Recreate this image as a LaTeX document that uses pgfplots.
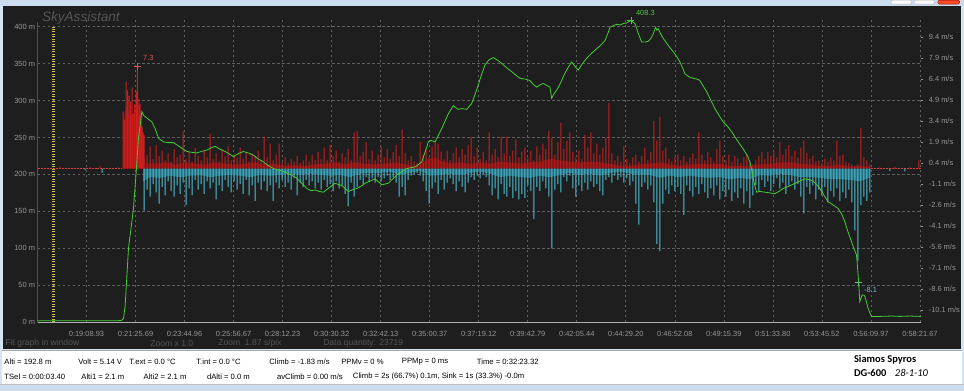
\documentclass[border=0pt]{standalone}
\usepackage{pgfplots}
\pgfplotsset{compat=1.18}
\usepackage{fontspec}
\setmainfont{Liberation Sans}
\newfontfamily\calibri{Carlito}
\definecolor{chrome}{RGB}{214,227,241}
\definecolor{topblue}{RGB}{202,220,238}
\definecolor{bgdark}{RGB}{30,30,30}
\definecolor{gridc}{RGB}{95,95,95}
\definecolor{tickc}{RGB}{150,150,150}
\definecolor{axisc}{RGB}{175,175,175}
\definecolor{dimc}{RGB}{85,85,85}
\definecolor{altc}{RGB}{70,205,55}
\definecolor{upc}{RGB}{205,30,30}
\definecolor{upband}{RGB}{120,22,22}
\definecolor{downc}{RGB}{75,195,215}
\definecolor{downband}{RGB}{40,105,122}
\definecolor{uplab}{RGB}{215,85,85}
\definecolor{downlab}{RGB}{120,180,205}
\definecolor{yellowc}{RGB}{205,200,75}
\pgfplotsset{
  base/.style={
    scale only axis, width=883.7bp, height=302.1bp,
    at={(37.3bp,68.7bp)}, anchor=south west,
    xmin=37.3, xmax=921,
  },
  lab/.style={font=\fontsize{7.5}{8}\selectfont, text=tickc},
}
\begin{document}
\begin{tikzpicture}[x=1bp,y=1bp]
% window chrome
\fill[chrome] (0,0) rectangle (964,391);
\fill[topblue] (0,385.3) rectangle (964,391);
\fill[bgdark] (2.5,42.5) rectangle (961.5,385.3);
\fill[white] (2,7) rectangle (962,41);
\draw[gray!70, line width=0.6] (2,41) -- (962,41);
\fill[topblue] (0,0) rectangle (964,7);
\draw[gray!50, line width=0.5] (0,7) -- (964,7);
\draw[gray!60, fill=white!90!blue!10, rounded corners=1.5] (891,387) rectangle (912,391);
\draw[gray!60, fill=white!90!blue!10, rounded corners=1.5] (914,387) rectangle (935,391);
\draw[red!50!black, fill=red!65!orange!85!white, rounded corners=1.5] (938,387) rectangle (960,391);
% watermark
\node[anchor=base west, inner sep=0, text=dimc, font=\fontsize{13.6}{14}\selectfont\itshape] at (41.7,369.5) {SkyAssistant};
% bottom info in dark panel
\begin{scope}[every node/.style={anchor=west, inner sep=0, text=dimc, font=\fontsize{8.6}{9}\selectfont}]
\node at (5,47.7) {Fit graph in window};
\node at (150,47.7) {Zoom x 1.0};
\node at (218,47.7) {Zoom\ \ 1.87 s/pix};
\node at (323,47.7) {Data quantity: 23719};
\end{scope}
% status panel
\begin{scope}[every node/.style={anchor=west, inner sep=0, text=black, font=\fontsize{7.7}{9}\selectfont}]
\node at (4,29.5) {Alti = 192.8 m};
\node at (78,29.5) {Volt = 5.14 V};
\node at (129,29.5) {T.ext = 0.0 °C};
\node at (196,29.5) {T.int = 0.0 °C};
\node at (269,29.5) {Climb = -1.83 m/s};
\node at (341,29.5) {PPMv = 0 \%};
\node at (401.7,29.5) {PPMp = 0 ms};
\node at (476.7,29.5) {Time = 0:32:23.32};
\node at (4,14.3) {TSel = 0:00:03.40};
\node at (81,14.3) {Alti1 = 2.1 m};
\node at (143.3,14.3) {Alti2 = 2.1 m};
\node at (206.7,14.3) {dAlti = 0.0 m};
\node at (276.7,14.3) {avClimb = 0.00 m/s};
\node at (352.7,14.3) {Climb = 2s (66.7\%) 0.1m, Sink = 1s (33.3\%) -0.0m};
\end{scope}
\node[anchor=west, inner sep=0, font=\fontsize{10.5}{12}\calibri\bfseries] at (854,31) {Siamos Spyros};
\node[anchor=west, inner sep=0, font=\fontsize{10.5}{12}\calibri\bfseries] at (854,18.3) {DG-600};
\node[anchor=west, inner sep=0, font=\fontsize{10.5}{12}\calibri\itshape] at (895,18.3) {28-1-10};

% ---- altitude axis: grid, ticks, cursor
\begin{axis}[base,
  ymin=0, ymax=408.3,
  axis line style={draw=none},
  xtick={86.3,135.35,184.4,233.45,282.5,331.55,380.6,429.65,478.7,527.75,576.8,625.85,674.9,723.95,773,822.05,871.1,920.15},
  xticklabels={0:19:08.93,0:21:25.69,0:23:44.96,0:25:56.67,0:28:12.23,0:30:30.32,0:32:42.13,0:35:00.37,0:37:19.12,0:39:42.79,0:42:05.44,0:44:29.20,0:46:52.08,0:49:15.39,0:51:33.80,0:53:45.52,0:56:09.97,0:58:21.67},
  ytick={0,50,100,150,200,250,300,350,400},
  yticklabels={0 m,50 m,100 m,150 m,200 m,250 m,300 m,350 m,400 m},
  xmajorgrids, ymajorgrids,
  grid style={gridc, line width=0.6bp, dash pattern=on 2.5bp off 2.5bp},
  major tick length=0pt,
  tick label style={lab},
  x tick label style={yshift=-5bp},
  y tick label style={xshift=1bp},
]
\addplot[yellowc, line width=2.8bp, dash pattern=on 1bp off 1.5bp] coordinates {(53.3,0) (53.3,400)};
\draw[axisc, line width=0.7bp] (rel axis cs:0,0.995) -- (rel axis cs:0,0) -- (rel axis cs:1,0);
\end{axis}

% ---- climb axis (m/s)
\begin{axis}[base,
  ymin=-10.98, ymax=10.6,
  hide x axis,
  axis y line*=right,
  y axis line style={draw=none},
  ytick={-10.1,-8.6,-7.1,-5.6,-4.1,-2.6,-1.1,0.4,1.9,3.4,4.9,6.4,7.9,9.4},
  yticklabels={-10.1 m/s,-8.6 m/s,-7.1 m/s,-5.6 m/s,-4.1 m/s,-2.6 m/s,-1.1 m/s,0.4 m/s,1.9 m/s,3.4 m/s,4.9 m/s,6.4 m/s,7.9 m/s,9.4 m/s},
  tick align=outside, major tick length=2.5bp,
  tick style={tickc, line width=0.5bp},
  yticklabel style={lab, xshift=2bp},
  clip=false,
]
\addplot[upc!85!white, line width=0.6bp, dash pattern=on 2bp off 1bp] coordinates {(37.3,0.03) (122,0.03)};
\addplot[upc!85!white, line width=0.6bp, dash pattern=on 2bp off 1bp] coordinates {(871,0.03) (921,0.03)};
% dense bands near zero
\addplot[fill=upband, draw=none] coordinates {
(123,0)(123,3.5)(126,4.5)(130,3.8)(134,4.0)(138,4.2)(141,3.0)(143,1.0)(146,0.4)(155,0.35)(165,0.45)(175,0.3)(185,0.45)(195,0.35)(205,0.3)(215,0.45)(225,0.35)(235,0.3)(245,0.35)(255,0.45)(265,0.3)(275,0.35)(285,0.2)(295,0.25)(305,0.2)(315,0.3)(325,0.35)(335,0.45)(345,0.3)(355,0.45)(365,0.35)(375,0.3)(385,0.35)(395,0.45)(405,0.3)(415,0.2)(422,0.45)(428,0.7)(435,0.8)(440,0.6)(450,0.35)(460,0.45)(470,0.35)(480,0.45)(490,0.35)(500,0.5)(510,0.45)(520,0.35)(530,0.45)(540,0.5)(550,0.7)(560,0.6)(570,0.5)(580,0.45)(590,0.5)(600,0.45)(610,0.35)(620,0.2)(630,0.2)(640,0.3)(650,0.35)(660,0.45)(670,0.3)(680,0.2)(690,0.3)(700,0.35)(710,0.3)(720,0.35)(730,0.2)(740,0.2)(750,0.2)(760,0.3)(770,0.35)(780,0.45)(790,0.45)(800,0.35)(810,0.3)(820,0.2)(830,0.2)(840,0.3)(850,0.15)(860,0.2)(870,0.15)(870,0)};
\addplot[fill=downband, draw=none] coordinates {
(143,0)(143,-0.9)(150,-0.6)(160,-0.65)(170,-0.5)(180,-0.6)(190,-0.5)(200,-0.45)(210,-0.6)(220,-0.5)(230,-0.45)(240,-0.5)(250,-0.6)(260,-0.45)(270,-0.5)(280,-0.45)(290,-0.35)(300,-0.45)(310,-0.35)(320,-0.45)(330,-0.5)(340,-0.45)(350,-0.6)(360,-0.35)(370,-0.3)(380,-0.3)(390,-0.2)(400,-0.45)(410,-0.3)(420,-0.15)(430,-0.5)(440,-0.45)(450,-0.35)(460,-0.45)(470,-0.3)(480,-0.2)(490,-0.35)(500,-0.6)(510,-0.5)(520,-0.6)(530,-0.65)(540,-0.5)(550,-0.6)(560,-0.45)(570,-0.3)(580,-0.45)(590,-0.35)(600,-0.5)(610,-0.3)(620,-0.2)(630,-0.35)(640,-0.45)(650,-0.45)(660,-0.65)(670,-0.5)(680,-0.6)(690,-0.5)(700,-0.6)(710,-0.65)(720,-0.6)(730,-0.75)(740,-0.65)(750,-0.75)(760,-0.45)(770,-0.5)(780,-0.35)(790,-0.45)(800,-0.6)(810,-0.6)(820,-0.65)(830,-0.75)(840,-0.75)(850,-0.8)(860,-0.9)(870,-0.65)(870,0)};
\addplot[ybar, bar width=1.0bp, bar shift=0pt, fill=upc, draw=none] coordinates {
(60,0.15)(90,0.12)(100,0.2)(118,0.1)
(123,4.1)(124.5,3.5)(126,6.2)(127.5,5.6)(129,5.2)(130.5,4.8)(132,5.8)(133,3.9)(134.5,4.6)(136,5.5)(137.3,7.3)(138.7,5.0)(140,4.6)(141,3.8)(142,3.0)(143,2.6)
(144,2.4)(147,1.0)(150,1.6)(153,0.7)(156,1.7)(159,0.9)(162,1.3)(165,0.6)(168,1.1)(171,0.5)(174,1.4)(177,0.8)(180,1.0)(183,2.7)(186,0.7)(189,1.2)(192,0.5)(195,1.5)(198,0.9)(201,0.6)(204,1.3)(207,0.8)(210,2.5)(213,0.7)(216,1.1)(219,0.5)(222,1.4)(225,0.9)(228,1.6)(231,0.6)(234,1.0)(237,0.8)(240,1.5)(243,0.7)(246,1.2)(249,0.5)(252,1.1)(255,0.9)(258,1.3)(261,0.6)(264,2.3)(267,0.8)(270,1.8)(273,0.6)(276,1.0)(279,1.8)(282,0.5)(285,0.8)(288,0.4)(291,0.7)(294,0.5)(297,0.9)(300,0.4)(303,0.6)(306,1.0)(309,0.5)(312,1.0)(315,0.6)
(318,1.2)(321,0.7)(324,1.5)(327,0.6)(330,1.7)(333,0.9)(336,1.3)(339,0.5)(342,1.1)(345,0.8)(348,1.4)(351,0.6)(354,2.6)(357,2.7)(360,0.9)(363,1.2)(366,1.9)(369,0.7)(372,1.3)(375,0.6)(378,1.0)(381,1.6)(384,0.8)(387,1.4)(390,0.7)(393,1.2)(396,1.7)(399,0.9)(402,2.8)(405,1.1)(408,0.6)(411,0.9)(414,0.5)(417,0.4)(420,1.9)(423,1.0)(426,1.4)(429,0.8)(432,1.6)(435,1.9)(438,1.8)(441,1.2)(444,0.7)(447,1.3)(450,0.6)(453,1.1)(456,1.5)(459,0.8)(462,1.4)(465,1.0)(468,1.7)(471,2.3)(474,0.9)(477,1.5)(480,0.7)(483,1.2)(486,0.6)(489,2.6)(492,1.0)(495,1.4)(498,0.8)(501,2.3)(504,1.1)(507,2.3)(510,0.9)(513,1.3)(516,2.1)(519,0.8)
(522,1.2)(525,1.5)(528,0.8)(531,1.3)(534,0.6)(537,1.6)(540,1.0)(543,1.8)(546,1.4)(549,2.7)(552,2.2)(555,1.0)(558,1.9)(561,3.3)(564,1.4)(567,2.0)(570,2.6)(573,1.2)(576,0.8)(579,1.3)(582,0.7)(585,2.4)(588,1.5)(591,2.6)(594,1.1)(597,1.8)(600,1.0)(603,1.5)(606,2.2)(609,4.7)(612,1.1)(615,0.6)(618,0.9)(621,0.5)(624,1.6)(627,0.7)(630,0.4)(633,0.8)(636,1.0)(639,0.5)(642,0.9)(645,1.5)(648,0.6)(651,1.2)(654,3.4)(657,2.0)(660,3.7)(663,1.3)(666,1.5)(669,0.7)(672,0.5)(675,0.8)(678,1.0)(681,0.6)(684,0.9)(687,0.5)(690,0.8)(693,1.1)(696,0.7)(699,2.6)(702,1.0)(705,0.6)(708,1.2)(711,0.8)(714,0.5)(717,1.4)(720,2.0)(723,0.9)
(726,0.6)(729,1.0)(732,0.5)(735,0.9)(738,0.7)(741,0.4)(744,0.8)(747,1.0)(750,0.5)(753,0.3)(756,0.6)(759,0.9)(762,1.2)(765,0.7)(768,1.2)(771,0.9)(774,1.3)(777,0.8)(780,1.9)(783,1.0)(786,1.4)(789,1.7)(792,0.9)(795,1.3)(798,0.8)(801,1.5)(804,2.0)(807,1.1)(810,0.7)(813,0.9)(816,0.5)(819,0.6)(822,0.4)(825,0.7)(828,0.5)(831,0.8)(834,0.6)(837,2.0)(840,0.9)(843,1.0)(846,0.5)(849,0.4)(852,0.3)(855,0.2)(858,0.3)(861,2.9)(864,0.8)(867,0.6)(870,0.3)
(880,0.1)(895,0.15)(910,0.1)(919,0.6)
};
\addplot[ybar, bar width=1.0bp, bar shift=0pt, fill=downc, draw=none] coordinates {
(85,-0.1)(102,-0.3)
(144,-3.0)(147,-1.5)(150,-2.0)(153,-1.1)(156,-1.7)(159,-2.5)(162,-1.3)(165,-1.9)(168,-0.9)(171,-1.6)(174,-2.0)(177,-1.2)(180,-1.8)(183,-1.0)(186,-2.6)(189,-1.4)(192,-1.9)(195,-0.8)(198,-1.5)(201,-1.1)(204,-1.8)(207,-0.9)(210,-1.4)(213,-1.0)(216,-2.2)(219,-1.2)(222,-1.6)(225,-0.8)(228,-1.3)(231,-1.7)(234,-0.9)(237,-1.5)(240,-1.1)(243,-1.8)(246,-0.8)(249,-1.9)(252,-1.2)(255,-2.3)(258,-1.0)(261,-1.5)(264,-0.9)(267,-1.6)(270,-1.2)(273,-2.3)(276,-1.0)(279,-1.4)(282,-0.8)(285,-1.3)(288,-1.0)(291,-1.5)(294,-0.7)(297,-1.9)(300,-1.0)(303,-1.3)(306,-0.8)(309,-1.2)(312,-0.9)(315,-1.4)
(318,-1.0)(321,-1.5)(324,-0.8)(327,-1.3)(330,-1.1)(333,-1.6)(336,-0.9)(339,-1.4)(342,-1.2)(345,-1.8)(348,-2.7)(351,-1.0)(354,-2.0)(357,-1.3)(360,-0.8)(363,-1.1)(366,-0.6)(369,-0.9)(372,-0.7)(375,-1.0)(378,-0.6)(381,-0.9)(384,-0.7)(387,-0.5)(390,-0.8)(393,-0.6)(396,-1.0)(399,-2.0)(402,-1.3)(405,-1.9)(408,-0.8)(411,-0.5)(414,-0.4)(417,-0.3)(420,-0.5)(423,-0.9)(426,-1.6)(429,-2.5)(432,-1.4)(435,-1.0)(438,-1.8)(441,-0.8)(444,-1.5)(447,-1.0)(450,-0.7)(453,-1.1)(456,-1.6)(459,-0.9)(462,-1.3)(465,-1.7)(468,-1.0)(471,-0.6)(474,-0.8)(477,-0.5)(480,-0.7)(483,-0.4)(486,-0.6)(489,-1.2)(492,-1.9)(495,-1.4)(498,-2.2)(501,-1.1)(504,-1.8)(507,-2.0)(510,-1.3)(513,-2.1)(516,-1.6)(519,-2.2)
(522,-1.8)(525,-2.1)(528,-1.2)(531,-1.6)(534,-3.6)(537,-1.3)(540,-1.6)(543,-0.9)(546,-1.4)(549,-2.0)(552,-5.7)(555,-1.5)(558,-1.1)(561,-1.7)(564,-0.6)(567,-0.9)(570,-0.5)(573,-1.4)(576,-2.0)(579,-1.2)(582,-1.6)(585,-1.0)(588,-1.5)(591,-0.9)(594,-1.3)(597,-1.1)(600,-1.6)(603,-1.9)(606,-0.8)(609,-0.6)(612,-1.0)(615,-0.5)(618,-0.8)(621,-0.6)(624,-1.0)(627,-0.7)(630,-1.2)(633,-0.9)(636,-2.5)(639,-4.0)(642,-1.3)(645,-1.0)(648,-1.5)(651,-1.2)(654,-2.4)(657,-5.4)(660,-5.9)(663,-2.5)(666,-1.5)(669,-1.8)(672,-1.2)(675,-1.6)(678,-1.3)(681,-1.8)(684,-3.3)(687,-1.2)(690,-1.6)(693,-2.0)(696,-1.3)(699,-1.8)(702,-1.1)(705,-1.7)(708,-2.1)(711,-1.4)(714,-1.9)(717,-1.2)(720,-2.2)(723,-1.6)
(726,-2.0)(729,-1.5)(732,-2.3)(735,-1.7)(738,-2.1)(741,-1.4)(744,-2.5)(747,-1.6)(750,-2.8)(753,-1.9)(756,-1.2)(759,-1.6)(762,-0.8)(765,-1.3)(768,-0.9)(771,-1.6)(774,-1.1)(777,-0.7)(780,-1.4)(783,-1.0)(786,-1.8)(789,-1.2)(792,-0.9)(795,-1.5)(798,-1.1)(801,-2.0)(804,-3.2)(807,-1.3)(810,-1.8)(813,-1.2)(816,-2.2)(819,-1.5)(822,-1.9)(825,-1.3)(828,-2.4)(831,-1.6)(834,-2.0)(837,-1.4)(840,-2.3)(843,-1.7)(846,-2.1)(849,-1.5)(852,-2.4)(855,-4.4)(858,-6.6)(861,-2.6)(864,-2.0)(867,-2.3)(870,-1.7)
(890,-0.15)(905,-0.2)
};
\addplot[only marks, mark=+, mark size=3.5bp, mark options={line width=0.6bp, draw=uplab},
  nodes near coords={7.3},
  nodes near coords style={anchor=west, xshift=2bp, yshift=8.4bp, font=\fontsize{7.5}{8}\selectfont, text=uplab}]
  coordinates {(137.3,7.3)};
\addplot[only marks, mark=+, mark size=3.5bp, mark options={line width=0.6bp, draw=downlab},
  nodes near coords={-8.1},
  nodes near coords style={anchor=west, xshift=2.5bp, yshift=-8bp, font=\fontsize{7.5}{8}\selectfont, text=downlab}]
  coordinates {(858.3,-8.1)};
\end{axis}

% ---- altitude line on top
\begin{axis}[base, ymin=0, ymax=408.3, hide axis, clip=false]
\addplot[altc, line width=0.8bp] coordinates {
(37.3,2)(60,2)(90,2)(115,2)(121,2.5)(123.3,5)(125,23)(128.3,100)(133.3,154)(136,203)(138.3,249)(141.7,285)(143.3,280)(147,276)(151.7,271)(155,262)(158.3,249)(163.3,244)(168,243)(173.3,243)(180,237)(186.7,231)(191,230)(196.7,229)(201,231)(206.7,233)(211,236)(215,238)(220,234)(225,231)(229,228)(233.3,224)(238,228)(243.3,231)(248,229)(253.3,226)(258,221)(263.3,217)(268,212)(273.3,208)(278,206)(283.3,204)(290,200)(296.7,195)(301,189)(306.7,181)(311,178)(315,179)(319,177)(323.3,176)(329,182)(335,188)(341.7,185)(348.3,177)(352,179)(356.7,181)(361,184)(365,188)(370,191)(375,194)(381.7,186)(385,187)(388.3,188)(392,193)(396.7,199)(401,203)(405,207)(410,209)(415,210)(418,213)(421.7,217)(425,230)(428.3,244)(431,246)(435,244)(438,252)(441.7,262)(445,272)(448.3,282)(453.3,293)(456,290)(458.3,288)(462,289)(466.7,288)(471.7,296)(475,308)(478.3,321)(481,333)(485,348)(489,355)(493.3,358)(497,355)(501.7,350)(506,345)(511.7,339)(516,334)(520,330)(525,329)(530,327)(533,322)(536.7,318)(540,321)(543.3,323)(547,320)(550,318)(551.7,303)(554,309)(556.7,314)(560,322)(563.3,332)(567,342)(571.7,352)(575,346)(578.3,341)(582,349)(586.7,357)(591,363)(596.7,370)(601,375)(605,381)(608,391)(610,399)(613,401)(616.7,403)(620,402)(623.3,404)(627,405)(631,408.3)(633,406)(635,404)(638,392)(641.7,379)(645,379)(648.3,380)(651,384)(653.3,390)(655.7,399)(657,395)(658.3,397)(660,392)(663.3,384)(668,375)(673.3,366)(677,359)(680,352)(683,343)(685,336)(689,332)(693.3,330)(697,329)(700,327)(703,320)(706.7,312)(711,300)(715,289)(719,280)(723.3,271)(727,266)(731.7,258)(735,251)(738.3,244)(742,237)(745,231)(748,224)(750,217)(752,205)(753.3,195)(755,185)(756.7,176)(760,177)(765,176)(770,175)(775,174)(779,177)(783.3,181)(789,184)(795,188)(800,191)(805,194)(809,193)(813.3,191)(817,186)(820,181)(824,172)(828.3,163)(833,159)(838.3,154)(842,146)(845,136)(848,123)(851.7,109)(854,100)(856.7,91)(857.5,78)(858.3,64)(859.2,45)(860,28)(861,32)(862.3,37)(864,37)(865,35)(866.5,28)(868.3,19)(870,13)(871.7,8)(880,8)(891.7,8.5)(900,8)(910,8.5)(921,8)
};
\addplot[only marks, mark=+, mark size=3.5bp, mark options={line width=0.6bp, draw=altc},
  nodes near coords={408.3},
  nodes near coords style={anchor=west, xshift=1.5bp, yshift=7.5bp, font=\fontsize{7.5}{8}\selectfont, text=altc}]
  coordinates {(631,408.3)};
\end{axis}
\end{tikzpicture}
\end{document}
